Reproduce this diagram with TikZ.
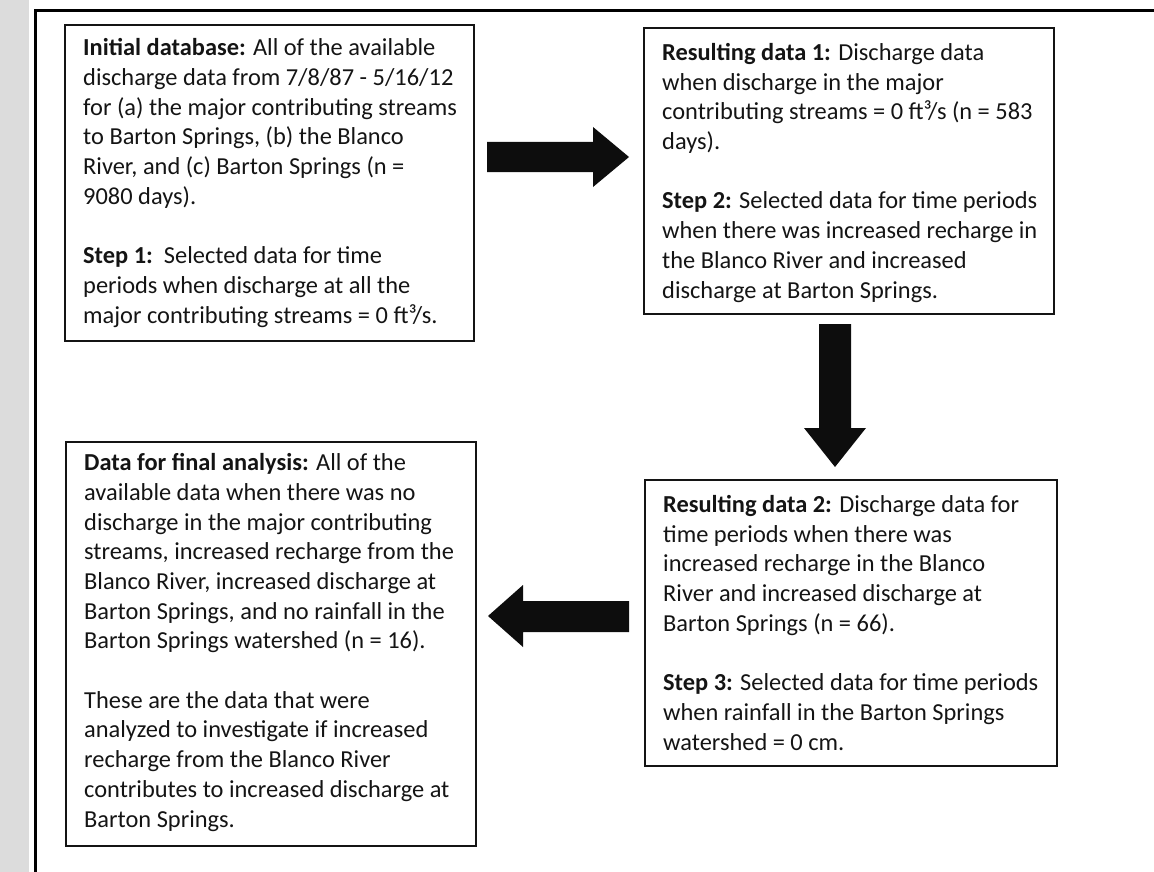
\documentclass[tikz,border=0pt]{standalone}
\usepackage{fontspec}
\setmainfont{Carlito}
\definecolor{stripgray}{RGB}{220,220,220}
\definecolor{inkc}{RGB}{20,20,20}
\tikzset{
  box/.style={draw=inkc, line width=2pt, anchor=north west, minimum width=#1, inner sep=0pt},
  txt/.style={anchor=base west, align=left, inner sep=0pt, text=inkc,
    font=\fontsize{24.4}{29.7}\selectfont},
  blockarrow/.style={fill=black!95}
}
\begin{document}
\begin{tikzpicture}[x=1pt,y=-1pt]
\useasboundingbox (0,0) rectangle (1154,872);
\fill[stripgray] (0,0) rectangle (29,872);
\draw[line width=3.5pt, black] (35.5,872) -- (35.5,10.5) -- (1154,10.5);

% boxes
\node[box=409pt, minimum height=316pt] (b1) at (64,24) {};
\node[box=410pt, minimum height=286pt] (b2) at (643,27) {};
\node[box=410pt, minimum height=404pt] (b3) at (65,441) {};
\node[box=412pt, minimum height=286pt] (b4) at (644,479) {};

% texts (anchored at the baseline of the last line)
\node[txt] (t1) at (83,323) {\textbf{Initial database:} All of the available\\
discharge data from 7/8/87 - 5/16/12\\
for (a) the major contributing streams\\
to Barton Springs, (b) the Blanco\\
River, and (c) Barton Springs (n =\\
9080 days).\\[29.7pt]
\textbf{Step 1:}\ \ Selected data for time\\
periods when discharge at all the\\
major contributing streams = 0 ft³/s.};

\node[txt] (t2) at (662,298) {\textbf{Resulting data 1:} Discharge data\\
when discharge in the major\\
contributing streams = 0 ft³/s (n = 583\\
days).\\[29.7pt]
\textbf{Step 2:} Selected data for time periods\\
when there was increased recharge in\\
the Blanco River and increased\\
discharge at Barton Springs.};

\node[txt] (t3) at (84,827) {\textbf{Data for final analysis:} All of the\\
available data when there was no\\
discharge in the major contributing\\
streams, increased recharge from the\\
Blanco River, increased discharge at\\
Barton Springs, and no rainfall in the\\
Barton Springs watershed (n = 16).\\[29.7pt]
These are the data that were\\
analyzed to investigate if increased\\
recharge from the Blanco River\\
contributes to increased discharge at\\
Barton Springs.};

\node[txt] (t4) at (663,750) {\textbf{Resulting data 2:} Discharge data for\\
time periods when there was\\
increased recharge in the Blanco\\
River and increased discharge at\\
Barton Springs (n = 66).\\[29.7pt]
\textbf{Step 3:} Selected data for time periods\\
when rainfall in the Barton Springs\\
watershed = 0 cm.};

% block arrows
\fill[blockarrow] (487,142) -- (593,142) -- (593,127) -- (629,157) -- (593,187) -- (593,172) -- (487,172) -- cycle;
\fill[blockarrow] (819,324) -- (851,324) -- (851,428) -- (866,428) -- (835,467) -- (804,428) -- (819,428) -- cycle;
\fill[blockarrow] (629,601) -- (523,601) -- (523,585) -- (488,616) -- (523,647) -- (523,632) -- (629,632) -- cycle;
\end{tikzpicture}
\end{document}
